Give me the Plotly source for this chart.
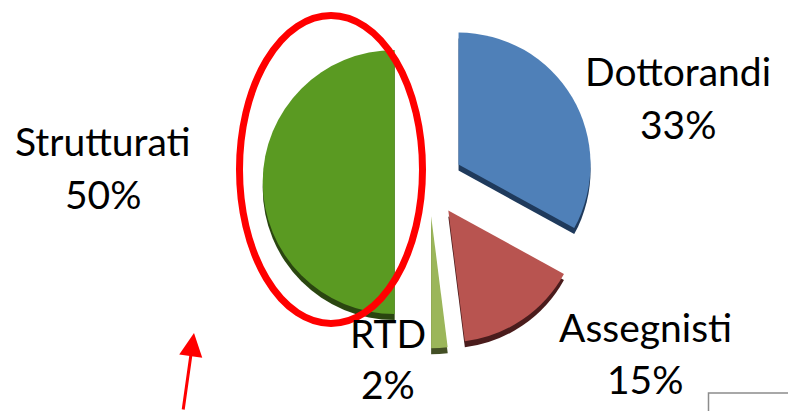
import plotly.graph_objects as go

W, H = 788, 411
categories = ["Dottorandi", "Assegnisti", "RTD", "Strutturati"]
values = [33, 15, 2, 50]
top_colors = ["#4f80b8", "#b85450", "#9bb65a", "#5a9a22"]
side_colors = ["#1f3a5c", "#4a1c1c", "#434f25", "#2a4610"]
label_x = [678, 645, 388, 103]
name_y = [71, 327, 333, 141]
pct_y = [124, 379, 384, 194]

CX, CY, R, PULL = 429, 182, 132, 0.26
DEPTH = 6
half = R * (1 + PULL)


def pie(colors, dx, dy):
    return go.Pie(
        labels=categories, values=values, sort=False, direction="clockwise", rotation=0,
        pull=[PULL] * len(values), textinfo="none", hoverinfo="skip", showlegend=False,
        marker=dict(colors=colors, line=dict(width=0)),
        domain=dict(
            x=[(CX + dx - half) / W, (CX + dx + half) / W],
            y=[1 - (CY + dy + half) / H, 1 - (CY + dy - half) / H],
        ),
    )


fig = go.Figure([pie(side_colors, 0, DEPTH), pie(top_colors, 0, 0)])

FONT = dict(family="Lato, Carlito, sans-serif", size=39, color="#000000")
annotations = []
for name, v, x, y1, y2 in zip(categories, values, label_x, name_y, pct_y):
    for text, y in ((name, y1), (f"{v}%", y2)):
        annotations.append(dict(
            text=text, x=x / W, y=1 - y / H, xref="paper", yref="paper",
            xanchor="center", yanchor="middle", showarrow=False, font=FONT,
        ))
annotations.append(dict(
    x=194 / W, y=1 - 333 / H, xref="paper", yref="paper", text="",
    showarrow=True, ax=-11, ay=90,
    arrowcolor="#ff0000", arrowwidth=3, arrowhead=2, arrowsize=1.55, standoff=0,
))

shapes = [
    dict(type="circle", xref="paper", yref="paper",
         x0=239.5 / W, x1=422.5 / W, y0=1 - 323.5 / H, y1=1 - 15.5 / H,
         line=dict(color="#ff0000", width=7), fillcolor="rgba(0,0,0,0)"),
    dict(type="path", xref="paper", yref="paper",
         path=f"M {708.5 / W} {1 - 411 / H} L {708.5 / W} {1 - 393 / H} L 1 {1 - 393 / H}",
         line=dict(color="#8c8c8c", width=1.5)),
]

fig.update_layout(
    width=W, height=H, margin=dict(l=0, r=0, t=0, b=0),
    paper_bgcolor="#ffffff", plot_bgcolor="#ffffff",
    annotations=annotations, shapes=shapes,
)
fig.write_html(
    "out.html", config=dict(displayModeBar=False),
    post_script=(
        "document.body.style.margin='0';"
        "var s=document.createElement('style');"
        "s.textContent='text{font-variant-ligatures:none}';"
        "document.head.appendChild(s);"
    ),
)
